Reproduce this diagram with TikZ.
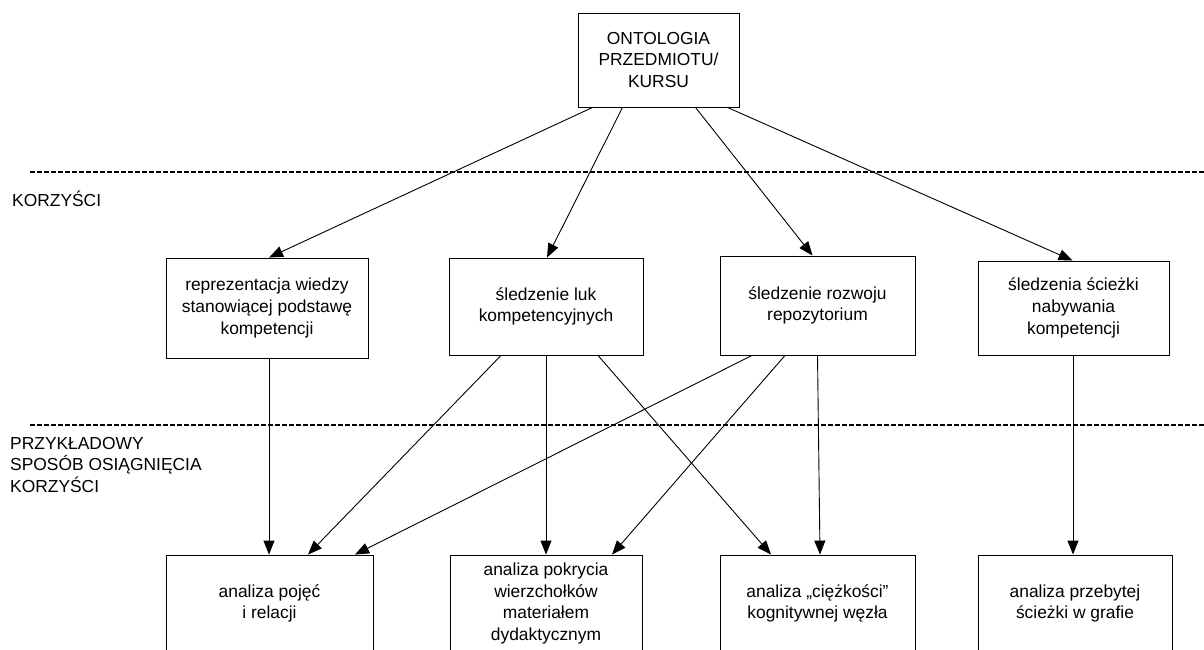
\documentclass[tikz,border=0pt]{standalone}
\usepackage{fontspec}
\setmainfont{Liberation Sans}
\usetikzlibrary{arrows.meta}

\begin{document}
\begin{tikzpicture}[
    x=1pt, y=-1pt,
    % Stili comuni per riquadri, frecce e separatori.
    edge/.style={draw, line width=0.9pt, -{Triangle[length=14pt, width=11pt]}},
    every node/.style={font=\fontsize{17.4}{21.7}\selectfont, align=center},
    box/.style={rectangle, draw, line width=0.9pt, inner sep=0pt},
    level/.style={line width=2pt, dash pattern=on 4.5pt off 2.5pt},
    side label/.style={anchor=west, align=left, inner sep=0pt}
]
% Cornice del disegno (i riquadri in basso escono dal bordo).
\useasboundingbox (0,0) rectangle (1204,650);
\clip (0,0) rectangle (1204,650);

% Separatori tra i livelli e relative etichette.
\draw[level] (30,172) -- (1204,172);
\draw[level] (30,425) -- (1204,425);
\node[side label] (benefits) at (12,199) {KORZYŚCI};
\node[side label] (means) at (10,465) {PRZYKŁADOWY\\SPOSÓB OSIĄGNIĘCIA\\KORZYŚCI};

% Radice.
\node[box, minimum width=161pt, minimum height=94pt] (onto) at (658.5,60) {ONTOLOGIA\\PRZEDMIOTU/\\KURSU};

% Korzyści.
\node[box, minimum width=202pt, minimum height=100pt] (repr) at (267,308) {reprezentacja wiedzy\\stanowiącej podstawę\\kompetencji};
\node[box, minimum width=194pt, minimum height=97pt]  (gaps) at (546,306.5) {śledzenie luk\\kompetencyjnych};
\node[box, minimum width=195pt, minimum height=99pt]  (repo) at (817.5,305.5) {śledzenie rozwoju\\repozytorium};
\node[box, minimum width=191pt, minimum height=94pt]  (path) at (1073.5,308) {śledzenia ścieżki\\nabywania\\kompetencji};

% Sposoby osiągnięcia korzyści.
\node[box, minimum width=207pt, minimum height=97pt] (concepts) at (269.5,603.5) {analiza pojęć\\i relacji};
\node[box, minimum width=192pt, minimum height=97pt] (cover)    at (546,603.5) {analiza pokrycia\\wierzchołków\\materiałem\\dydaktycznym};
\node[box, minimum width=195pt, minimum height=97pt] (weight)   at (817.5,603.5) {analiza „ciężkości”\\kognitywnej węzła};
\node[box, minimum width=194pt, minimum height=97pt] (walk)     at (1075,603.5) {analiza przebytej\\ścieżki w grafie};

% Dalla radice ai benefici.
\draw[edge] ([xshift=-66pt]onto.south) -- ([xshift=2pt]repr.north);
\draw[edge] ([xshift=-36pt]onto.south) -- ([xshift=1pt]gaps.north);
\draw[edge] ([xshift=37pt]onto.south) -- ([xshift=-5pt]repo.north);
\draw[edge] ([xshift=69pt]onto.south) -- ([xshift=-1pt]path.north);

% Dai benefici agli esempi.
\draw[edge] ([xshift=2pt]repr.south) -- ([xshift=-0.5pt]concepts.north);
\draw[edge] ([xshift=-45pt]gaps.south) -- ([xshift=38.5pt]concepts.north);
\draw[edge] (gaps.south) -- (cover.north);
\draw[edge] ([xshift=52pt]gaps.south) -- ([xshift=-46.5pt]weight.north);
\draw[edge] ([xshift=-65.5pt]repo.south) -- ([xshift=85.5pt]concepts.north);
\draw[edge] ([xshift=-32.5pt]repo.south) -- ([xshift=66pt]cover.north);
\draw[edge] (repo.south) -- ([xshift=2.5pt]weight.north);
\draw[edge] ([xshift=-0.5pt]path.south) -- ([xshift=-2pt]walk.north);
\end{tikzpicture}
\end{document}
